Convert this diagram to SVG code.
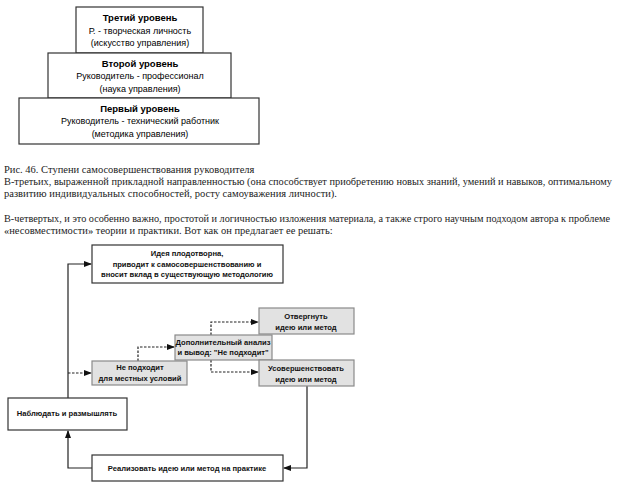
<svg xmlns="http://www.w3.org/2000/svg" width="623" height="493" viewBox="0 0 623 493">
<style>
.bx{fill:#fff;stroke:#333;stroke-width:1.2}
.gb{fill:#e2e2e2;stroke:#8a8a8a;stroke-width:1.2}
.t{font-family:"Liberation Sans",Arial,sans-serif;font-size:9px;fill:#000;text-anchor:middle}
.h{font-weight:bold;font-size:9.5px}
.f{font-family:"Liberation Sans",Arial,sans-serif;font-size:7.6px;font-weight:bold;fill:#111;text-anchor:middle}
.c{font-family:"Liberation Serif","Times New Roman",serif;font-size:10.5px;fill:#222}
.ln{fill:none;stroke:#222;stroke-width:1.2}
.ds{fill:none;stroke:#222;stroke-width:1.2;stroke-dasharray:2.5,1.5}
</style>
<defs>
<marker id="ah" markerWidth="8" markerHeight="6" refX="7" refY="3" orient="auto" markerUnits="userSpaceOnUse">
<path d="M0,0 L8,3 L0,6 z" fill="#111"/>
</marker>
</defs>
<rect width="623" height="493" fill="#fff"/>

<g id="level3">
<rect class="bx" x="76" y="7" width="127" height="46"/>
<text class="t h" x="140" y="21">Третий уровень</text>
<text class="t" x="140" y="34">Р. - творческая личность</text>
<text class="t" x="140" y="46">(искусство управления)</text>
</g>
<g id="level2">
<rect class="bx" x="48" y="53" width="183" height="45"/>
<text class="t h" x="140" y="67">Второй уровень</text>
<text class="t" x="140" y="79">Руководитель - профессионал</text>
<text class="t" x="140" y="92">(наука управления)</text>
</g>
<g id="level1">
<rect class="bx" x="19" y="98" width="240" height="46"/>
<text class="t h" x="140" y="112">Первый уровень</text>
<text class="t" x="140" y="124">Руководитель - технический работник</text>
<text class="t" x="140" y="137">(методика управления)</text>
</g>

<g id="caption">
<text class="c" x="4" y="173">Рис. 46. Ступени самосовершенствования руководителя</text>
<text class="c" x="4" y="185" textLength="608" lengthAdjust="spacingAndGlyphs">В-третьих, выраженной прикладной направленностью (она способствует приобретению новых знаний, умений и навыков, оптимальному</text>
<text class="c" x="4" y="197">развитию индивидуальных способностей, росту самоуважения личности).</text>
<text class="c" x="4" y="222" style="font-size:10.1px" textLength="606" lengthAdjust="spacingAndGlyphs">В-четвертых, и это особенно важно, простотой и логичностью изложения материала, а также строго научным подходом автора к проблеме</text>
<text class="c" x="4" y="234">«несовместимости» теории и практики. Вот как он предлагает ее решать:</text>
</g>

<g id="connectors">
<path class="ln" d="M68,398 V264 H91" marker-end="url(#ah)"/>
<path class="ds" d="M68,373 H91" marker-end="url(#ah)"/>
<path class="ds" d="M138,361 V347 H174" marker-end="url(#ah)"/>
<path class="ds" d="M211,335 V322 H258" marker-end="url(#ah)"/>
<path class="ds" d="M211,360 V372 H258" marker-end="url(#ah)"/>
<path class="ln" d="M307,386 V468 H284" marker-end="url(#ah)"/>
<path class="ln" d="M92,468 H68 V431" marker-end="url(#ah)"/>
</g>

<g id="idea">
<rect class="bx" x="92" y="245" width="191" height="38"/>
<text class="f" x="187" y="256">Идея плодотворна,</text>
<text class="f" x="187" y="267">приводит к самосовершенствованию и</text>
<text class="f" x="187" y="277">вносит вклад в существующую методологию</text>
</g>
<g id="notfit">
<rect class="gb" x="92" y="361" width="95" height="24"/>
<text class="f" x="140" y="370">Не подходит</text>
<text class="f" x="140" y="381">для местных условий</text>
</g>
<g id="analysis">
<rect class="gb" x="175" y="335" width="97" height="25"/>
<text class="f" x="223" y="345">Дополнительный анализ</text>
<text class="f" x="223" y="355">и вывод: "Не подходит"</text>
</g>
<g id="reject">
<rect class="gb" x="259" y="308" width="95" height="26"/>
<text class="f" x="306" y="319">Отвергнуть</text>
<text class="f" x="306" y="330">идею или метод</text>
</g>
<g id="improve">
<rect class="gb" x="259" y="360" width="95" height="26"/>
<text class="f" x="306" y="371">Усовершенствовать</text>
<text class="f" x="306" y="382">идею или метод</text>
</g>
<g id="observe">
<rect class="bx" x="8" y="398" width="119" height="32"/>
<text class="f" x="67" y="416">Наблюдать и размышлять</text>
</g>
<g id="implement">
<rect class="bx" x="92" y="455" width="191" height="26"/>
<text class="f" x="187" y="471">Реализовать идею или метод на практике</text>
</g>
</svg>
